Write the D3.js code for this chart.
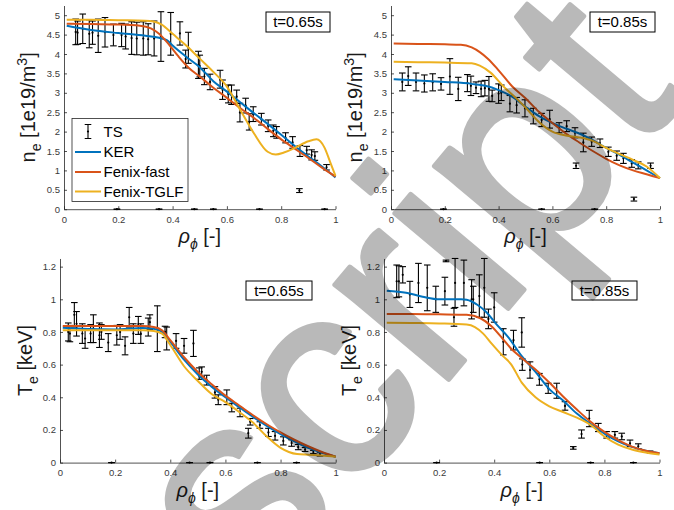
<!DOCTYPE html>
<html>
<head>
<meta charset="utf-8">
<script src="https://cdn.jsdelivr.net/npm/d3@7"></script>
<style>
  body { margin: 0; background: #fff; }
  svg { display: block; }
  text { font-family: "Liberation Sans", Arial, Helvetica, sans-serif; }
</style>
</head>
<body>
<svg id="fig" width="674" height="510"></svg>
<script>
// ---------- Thomson scattering (TS) measurements ----------
// density, t = 0.65 s
const tsRhoNe65 = [0.043,0.05,0.069,0.093,0.105,0.126,0.151,0.182,0.212,0.227,0.249,0.268,0.292,0.31,0.332,0.357,0.393,0.427,0.448,0.458,0.495,0.5,0.517,0.538,0.575,0.584,0.605,0.617,0.636,0.648,0.669,0.682,0.697,0.727,0.752,0.771,0.783,0.816,0.842,0.869,0.894,0.912,0.924,0.967,0.867,0.195,0.35,0.48,0.55,0.72,0.96];
const tsNe65    = [4.57,4.55,4.65,4.52,4.55,4.47,4.56,4.49,4.49,4.45,4.41,4.4,4.4,4.38,4.4,4.45,4.52,4.53,3.87,4.16,3.72,3.69,3.42,3.28,3.35,3.08,2.97,2.95,2.9,2.49,2.67,2.25,2.45,2.32,2.15,2.02,1.98,1.84,1.72,1.5,1.52,1.4,1.37,1.08,0.48,0,0,0,0,0,0];
const tsNeErr65 = [0.33,0.3,0.38,0.36,0.3,0.43,0.38,0.28,0.3,0.32,0.42,0.42,0.43,0.4,0.45,0.64,0.55,0.3,0.23,0.4,0.35,0.28,0.21,0.2,0.23,0.25,0.23,0.25,0.17,0.24,0.19,0.21,0.19,0.15,0.15,0.15,0.15,0.13,0.15,0.14,0.1,0.13,0.11,0.07,0.05,0,0,0,0,0,0];
// density, t = 0.85 s
const tsRhoNe85 = [0.042,0.064,0.093,0.124,0.155,0.186,0.219,0.25,0.284,0.297,0.316,0.335,0.349,0.364,0.376,0.4,0.41,0.442,0.467,0.498,0.529,0.56,0.59,0.625,0.653,0.684,0.715,0.746,0.777,0.808,0.839,0.864,0.895,0.919,0.965,0.688,0.903,0.195,0.56,0.757];
const tsNe85    = [3.28,3.43,3.28,3.24,3.27,3.23,3.42,3.1,3.25,3.18,3.13,3.1,3.12,3.1,2.92,2.98,3.0,2.72,2.68,2.6,2.4,2.3,2.32,2.1,2.14,1.97,1.72,1.74,1.7,1.48,1.38,1.31,1.18,1.13,1.12,1.12,0.26,0,0,0];
const tsNeErr85 = [0.23,0.24,0.23,0.22,0.22,0.16,0.46,0.3,0.22,0.25,0.15,0.2,0.2,0.32,0.15,0.25,0.2,0.21,0.2,0.22,0.2,0.17,0.23,0.13,0.14,0.13,0.24,0.12,0.11,0.12,0.12,0.13,0.1,0.09,0.07,0.07,0.05,0,0,0];
// temperature, t = 0.65 s
const tsRhoTe65 = [0.03,0.036,0.052,0.06,0.081,0.091,0.111,0.121,0.143,0.15,0.175,0.206,0.218,0.236,0.251,0.266,0.284,0.293,0.32,0.326,0.353,0.381,0.387,0.421,0.45,0.484,0.505,0.514,0.532,0.562,0.574,0.605,0.623,0.653,0.683,0.69,0.725,0.756,0.78,0.81,0.84,0.864,0.889,0.919,0.943,0.187,0.47,0.544,0.716,0.858];
const tsTe65    = [0.8,0.79,0.905,0.85,0.79,0.76,0.79,0.82,0.78,0.8,0.735,0.78,0.8,0.715,0.89,0.79,0.84,0.79,0.83,0.86,0.82,0.8,0.76,0.745,0.715,0.73,0.545,0.556,0.505,0.43,0.385,0.4,0.337,0.307,0.18,0.25,0.23,0.185,0.164,0.133,0.12,0.095,0.08,0.065,0.05,0,0,0,0,0];
const tsTeErr65 = [0.055,0.05,0.075,0.075,0.06,0.06,0.055,0.085,0.075,0.045,0.055,0.06,0.045,0.055,0.06,0.06,0.055,0.06,0.055,0.045,0.14,0.035,0.07,0.045,0.045,0.08,0.035,0.03,0.03,0.035,0.03,0.045,0.026,0.026,0.03,0.02,0.02,0.025,0.026,0.025,0.02,0.016,0.012,0.01,0.01,0,0,0,0,0];
// temperature, t = 0.85 s
const tsRhoTe85 = [0.046,0.054,0.068,0.094,0.125,0.157,0.188,0.221,0.225,0.254,0.258,0.29,0.318,0.324,0.346,0.364,0.379,0.4,0.433,0.47,0.5,0.502,0.53,0.564,0.596,0.627,0.657,0.717,0.745,0.778,0.808,0.838,0.863,0.893,0.923,0.966,0.687,0.191,0.565,0.75,0.905];
const tsTe85    = [1.11,1.11,1.15,1.03,1.1,1.07,1.0,1.05,1.235,0.89,1.1,1.1,1.0,1.0,1.02,1.07,0.88,0.95,0.74,0.75,0.797,0.6,0.567,0.51,0.455,0.44,0.347,0.175,0.27,0.215,0.17,0.17,0.16,0.118,0.1,0.065,0.09,0,0,0,0];
const tsTeErr85 = [0.1,0.095,0.05,0.08,0.12,0.14,0.08,0.085,0.005,0.055,0.15,0.14,0.12,0.08,0.13,0.18,0.06,0.09,0.08,0.06,0.09,0.035,0.05,0.036,0.031,0.046,0.026,0.025,0.05,0.025,0.02,0.02,0.02,0.02,0.015,0.006,0.008,0,0,0,0];

// ---------- Modelled profiles ----------
// density, t = 0.65 s
const kerRhoNe65  = [0.01,0.1,0.2,0.3,0.35,0.38,0.4,0.45,0.5,0.55,0.6,0.65,0.7,0.75,0.8,0.85,0.9,0.95,1.0];
const kerNe65     = [4.73,4.62,4.54,4.47,4.42,4.35,4.22,3.93,3.66,3.3,3.03,2.75,2.47,2.2,1.92,1.63,1.36,1.1,0.82];
const fastRhoNe65 = [0.01,0.1,0.2,0.28,0.32,0.35,0.38,0.42,0.46,0.5,0.55,0.6,0.65,0.7,0.75,0.8,0.85,0.9,0.95,1.0];
const fastNe65    = [4.78,4.77,4.76,4.73,4.66,4.52,4.3,3.95,3.64,3.42,3.13,2.87,2.6,2.35,2.07,1.8,1.56,1.32,1.07,0.84];
const tglfRhoNe65 = [0.01,0.1,0.2,0.3,0.33,0.36,0.4,0.45,0.5,0.55,0.6,0.65,0.7,0.75,0.78,0.81,0.85,0.9,0.93,0.96,0.98,1.0];
const tglfNe65    = [4.88,4.88,4.87,4.86,4.84,4.76,4.52,4.22,3.88,3.54,3.16,2.55,1.95,1.48,1.41,1.46,1.58,1.75,1.8,1.58,1.22,0.86];
// density, t = 0.85 s
const kerRhoNe85  = [0.01,0.1,0.2,0.3,0.35,0.4,0.45,0.5,0.55,0.6,0.65,0.7,0.75,0.8,0.85,0.9,0.95,1.0];
const kerNe85     = [3.35,3.32,3.28,3.23,3.18,3.07,2.9,2.64,2.4,2.22,2.08,1.95,1.78,1.58,1.4,1.2,1.0,0.8];
const fastRhoNe85 = [0.01,0.1,0.2,0.26,0.3,0.33,0.36,0.4,0.45,0.5,0.55,0.6,0.65,0.7,0.75,0.8,0.85,0.9,0.95,1.0];
const fastNe85    = [4.27,4.26,4.25,4.24,4.17,4.05,3.88,3.58,3.17,2.86,2.51,2.22,1.95,1.72,1.5,1.3,1.13,1.0,0.9,0.8];
const tglfRhoNe85 = [0.01,0.1,0.2,0.3,0.33,0.37,0.42,0.47,0.5,0.55,0.6,0.65,0.7,0.75,0.8,0.85,0.9,0.95,1.0];
const tglfNe85    = [3.8,3.79,3.78,3.76,3.7,3.52,3.15,2.83,2.62,2.25,2.0,1.9,1.85,1.76,1.58,1.42,1.27,1.1,0.8];
// temperature, t = 0.65 s
const kerRhoTe65  = [0.01,0.1,0.2,0.3,0.34,0.37,0.4,0.45,0.5,0.55,0.6,0.65,0.7,0.75,0.8,0.85,0.9,0.95,1.0];
const kerTe65     = [0.826,0.818,0.815,0.825,0.82,0.8,0.74,0.63,0.54,0.465,0.4,0.34,0.28,0.225,0.175,0.13,0.09,0.06,0.036];
const fastRhoTe65 = [0.01,0.1,0.2,0.3,0.34,0.37,0.4,0.45,0.5,0.55,0.6,0.65,0.7,0.75,0.8,0.85,0.9,0.95,1.0];
const fastTe65    = [0.836,0.836,0.836,0.836,0.83,0.81,0.75,0.645,0.555,0.48,0.41,0.35,0.29,0.235,0.185,0.14,0.1,0.065,0.036];
const tglfRhoTe65 = [0.01,0.1,0.2,0.3,0.34,0.37,0.4,0.45,0.5,0.55,0.6,0.65,0.7,0.75,0.8,0.83,0.86,0.9,0.95,1.0];
const tglfTe65    = [0.81,0.81,0.81,0.81,0.806,0.79,0.72,0.59,0.5,0.42,0.37,0.31,0.245,0.16,0.09,0.065,0.052,0.048,0.044,0.036];
// temperature, t = 0.85 s
const kerRhoTe85  = [0.01,0.08,0.14,0.2,0.28,0.3,0.34,0.37,0.41,0.45,0.5,0.55,0.6,0.65,0.7,0.75,0.8,0.85,0.9,0.95,1.0];
const kerTe85     = [1.053,1.04,1.016,1.0,1.0,0.997,0.965,0.924,0.843,0.77,0.652,0.555,0.45,0.38,0.3,0.236,0.178,0.13,0.096,0.073,0.057];
const fastRhoTe85 = [0.01,0.1,0.2,0.3,0.35,0.39,0.43,0.46,0.5,0.55,0.6,0.65,0.7,0.75,0.8,0.85,0.9,0.95,1.0];
const fastTe85    = [0.91,0.91,0.908,0.905,0.884,0.835,0.76,0.7,0.64,0.57,0.49,0.405,0.325,0.25,0.188,0.138,0.098,0.073,0.057];
const tglfRhoTe85 = [0.01,0.1,0.2,0.3,0.33,0.36,0.39,0.43,0.46,0.5,0.55,0.6,0.65,0.7,0.75,0.8,0.85,0.9,0.95,1.0];
const tglfTe85    = [0.857,0.855,0.852,0.845,0.83,0.79,0.73,0.655,0.605,0.49,0.4,0.345,0.31,0.275,0.23,0.16,0.11,0.08,0.062,0.05];

// ---------- Ticks and labels ----------
const rhoTicks = [0, 0.2, 0.4, 0.6, 0.8, 1];
const neTicks  = [0, 0.5, 1, 1.5, 2, 2.5, 3, 3.5, 4, 4.5, 5];
const teTicks  = [0, 0.2, 0.4, 0.6, 0.8, 1, 1.2];
const seriesNames = ["TS", "KER", "Fenix-fast", "Fenix-TGLF"];
const timeLabels  = ["t=0.65s", "t=0.85s"];
const watermarkText = "Manuscript";

const colors = { ker: "#0072BD", fast: "#D95319", tglf: "#EDB120" };
const axisColor = "#262626";

// ---------- Panel layout ----------
const panels = [
  { left: 64,  right: 335.5, bottom: 209.2, ymax: 5.25, ppu: 38.8, ticks: neTicks, kind: "ne", time: timeLabels[0],
    ts: [tsRhoNe65, tsNe65, tsNeErr65], ker: [kerRhoNe65, kerNe65], fast: [fastRhoNe65, fastNe65], tglf: [tglfRhoNe65, tglfNe65],
    ylabX: 35, tbox: [266, 12, 64, 20], legend: true },
  { left: 391, right: 660,   bottom: 209.2, ymax: 5.25, ppu: 38.8, ticks: neTicks, kind: "ne", time: timeLabels[1],
    ts: [tsRhoNe85, tsNe85, tsNeErr85], ker: [kerRhoNe85, kerNe85], fast: [fastRhoNe85, fastNe85], tglf: [tglfRhoNe85, tglfNe85],
    ylabX: 362, tbox: [590, 12, 65, 20] },
  { left: 60,  right: 335.7, bottom: 462.6, ymax: 1.25, ppu: 163.3, ticks: teTicks, kind: "te", time: timeLabels[0],
    ts: [tsRhoTe65, tsTe65, tsTeErr65], ker: [kerRhoTe65, kerTe65], fast: [fastRhoTe65, fastTe65], tglf: [tglfRhoTe65, tglfTe65],
    ylabX: 32, tbox: [246, 281, 66, 19] },
  { left: 384, right: 659.5, bottom: 462.6, ymax: 1.25, ppu: 163.3, ticks: teTicks, kind: "te", time: timeLabels[1],
    ts: [tsRhoTe85, tsTe85, tsTeErr85], ker: [kerRhoTe85, kerTe85], fast: [fastRhoTe85, fastTe85], tglf: [tglfRhoTe85, tglfTe85],
    ylabX: 356, tbox: [572, 281, 65, 19] }
];

const svg = d3.select("#fig");
svg.append("rect").attr("width", 674).attr("height", 510).attr("fill", "#fff");

function drawErrorbars(g, x, y, rho, val, err) {
  const cap = 3.3;
  const pts = rho.map((r, i) => ({ r, v: val[i], e: err[i] }));
  const eb = g.append("g").attr("stroke", "#000").attr("stroke-width", 1.1).attr("fill", "none");
  pts.forEach(p => {
    const X = x(p.r), y1 = y(p.v + p.e), y2 = y(p.v - p.e);
    eb.append("line").attr("x1", X).attr("x2", X).attr("y1", y1).attr("y2", y2);
    eb.append("line").attr("x1", X - cap).attr("x2", X + cap).attr("y1", y1).attr("y2", y1);
    eb.append("line").attr("x1", X - cap).attr("x2", X + cap).attr("y1", y2).attr("y2", y2);
  });
  g.append("g").selectAll("circle").data(pts).join("circle")
    .attr("cx", d => x(d.r)).attr("cy", d => y(d.v)).attr("r", 1.1).attr("fill", "#000");
}

function drawProfile(g, x, y, pair, color) {
  const data = pair[0].map((r, i) => [r, pair[1][i]]);
  const line = d3.line().x(d => x(d[0])).y(d => y(d[1])).curve(d3.curveMonotoneX);
  g.append("path").datum(data).attr("d", line)
    .attr("fill", "none").attr("stroke", color).attr("stroke-width", 2)
    .attr("stroke-linejoin", "round");
}

panels.forEach(p => {
  const x = d3.scaleLinear().domain([0, 1]).range([p.left, p.right]);
  const y = d3.scaleLinear().domain([0, p.ymax]).range([p.bottom, p.bottom - p.ymax * p.ppu]);
  const g = svg.append("g");

  // axes (ticks pointing inward, no box)
  const fmt = d => String(+d.toFixed(2));
  const ax = g.append("g").attr("transform", `translate(0,${p.bottom})`)
    .call(d3.axisBottom(x).tickValues(rhoTicks).tickFormat(fmt).tickSizeInner(-3).tickSizeOuter(0).tickPadding(7));
  const ay = g.append("g").attr("transform", `translate(${p.left},0)`)
    .call(d3.axisLeft(y).tickValues(p.ticks).tickFormat(fmt).tickSizeInner(-3).tickSizeOuter(0).tickPadding(4));
  [ax, ay].forEach(a => {
    a.attr("font-family", null).attr("font-size", null);
    a.select(".domain").attr("stroke", axisColor).attr("stroke-width", 0.8);
    a.selectAll(".tick line").attr("stroke", axisColor).attr("stroke-width", 0.8);
    a.selectAll(".tick text").attr("fill", "#3a3a3a").style("font-size", "9.5px");
  });

  // data
  drawErrorbars(g, x, y, p.ts[0], p.ts[1], p.ts[2]);
  drawProfile(g, x, y, p.ker, colors.ker);
  drawProfile(g, x, y, p.fast, colors.fast);
  drawProfile(g, x, y, p.tglf, colors.tglf);

  // y label
  const cy = (p.bottom + y(p.ymax)) / 2;
  const yl = g.append("text").attr("transform", `translate(${p.ylabX},${cy}) rotate(-90)`)
    .attr("text-anchor", "middle").attr("fill", "#1a1a1a").style("font-size", "20px");
  if (p.kind === "ne") {
    yl.append("tspan").text("n");
    yl.append("tspan").attr("dy", 6).style("font-size", "14px").text("e");
    yl.append("tspan").attr("dy", -6).text(" [1e19/m");
    yl.append("tspan").attr("dy", -8).style("font-size", "14px").text("3");
    yl.append("tspan").attr("dy", 8).text("]");
  } else {
    yl.append("tspan").text("T");
    yl.append("tspan").attr("dy", 6).style("font-size", "14px").text("e");
    yl.append("tspan").attr("dy", -6).text(" [keV]");
  }

  // x label
  const xl = g.append("text").attr("x", (p.left + p.right) / 2).attr("y", p.bottom + 34)
    .attr("text-anchor", "middle").attr("fill", "#1a1a1a").style("font-size", "20px");
  xl.append("tspan").style("font-style", "italic").text("ρ");
  xl.append("tspan").attr("dy", 6).style("font-size", "14px").style("font-style", "italic").text("ϕ");
  xl.append("tspan").attr("dy", -6).text(" [-]");

  // time annotation
  const [bx, by, bw, bh] = p.tbox;
  g.append("rect").attr("x", bx).attr("y", by).attr("width", bw).attr("height", bh)
    .attr("fill", "#fff").attr("stroke", "#000").attr("stroke-width", 1);
  g.append("text").attr("x", bx + bw / 2).attr("y", by + bh / 2 + 5.3).attr("text-anchor", "middle")
    .attr("fill", "#000").style("font-size", "15px").text(p.time);

  // legend
  if (p.legend) {
    const lg = g.append("g");
    lg.append("rect").attr("x", 72).attr("y", 118.5).attr("width", 116).attr("height", 83)
      .attr("fill", "#fff").attr("stroke", axisColor).attr("stroke-width", 0.8);
    const rows = [131.5, 152, 172, 191.5];
    const lc = [null, colors.ker, colors.fast, colors.tglf];
    seriesNames.forEach((name, i) => {
      const ry = rows[i];
      if (i === 0) {
        lg.append("path").attr("d", `M84.7,${ry - 7}H91.3M88,${ry - 7}V${ry + 7}M84.7,${ry + 7}H91.3`)
          .attr("stroke", "#000").attr("stroke-width", 1.1).attr("fill", "none");
        lg.append("circle").attr("cx", 88).attr("cy", ry).attr("r", 1.1).attr("fill", "#000");
      } else {
        lg.append("line").attr("x1", 75).attr("x2", 101).attr("y1", ry).attr("y2", ry)
          .attr("stroke", lc[i]).attr("stroke-width", 2);
      }
      lg.append("text").attr("x", 103.5).attr("y", ry + 5.3).attr("fill", "#000")
        .style("font-size", "15px").text(name);
    });
  }
});

// ---------- Page watermark, laid diagonally over the figure ----------
(function () {
  const size = 280, angle = -50;            // glyph size (px) and baseline angle (deg)
  const dot = [372, 178];                   // where the dot of the "i" sits
  const a = angle * Math.PI / 180;
  const ux = [Math.cos(a), Math.sin(a)];     // along the baseline
  const uy = [Math.sin(a), -Math.cos(a)];    // glyph "up"
  // dot of "i" relative to the glyph origin (em units)
  const dx = 0.111, dy = 0.672;
  const ox = dot[0] - size * (dx * ux[0] + dy * uy[0]);
  const oy = dot[1] - size * (dx * ux[1] + dy * uy[1]);

  const wm = svg.append("g").attr("opacity", 0.27);
  const t = wm.append("text")
    .attr("fill", "#000").attr("stroke", "#000").attr("stroke-width", 5).attr("stroke-linejoin", "round")
    .style("font-size", size + "px")
    .text(watermarkText);
  const iPos = t.node().getStartPositionOfChar(watermarkText.indexOf("i")).x;
  t.attr("transform", `translate(${ox},${oy}) rotate(${angle}) translate(${-iPos},0)`);
})();
</script>
</body>
</html>
